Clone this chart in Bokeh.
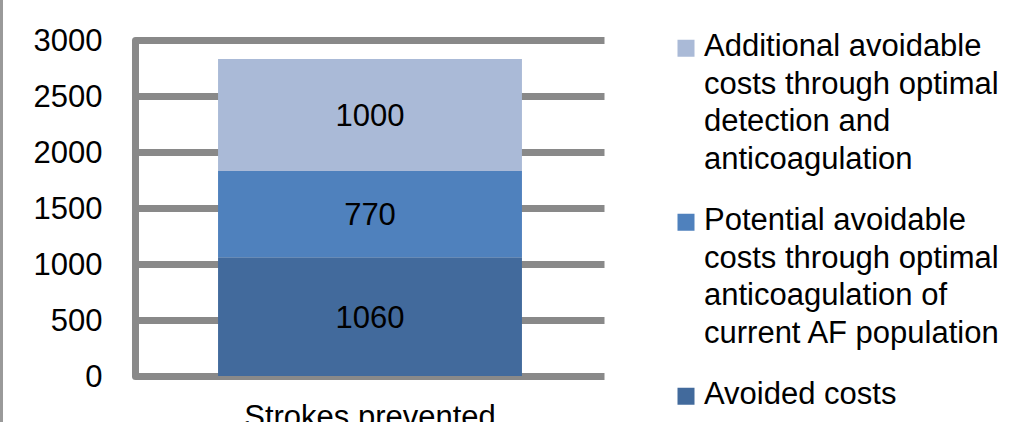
from bokeh.plotting import figure
from bokeh.models import ColumnDataSource, Range1d, FactorRange, FixedTicker
from bokeh.layouts import row
from bokeh.embed import file_html
from bokeh.resources import INLINE
from bokeh.core.properties import value

# ---------------- data ----------------
categories = ["Strokes prevented"]
avoided = [1060]
potential = [770]
additional = [1000]
stack_keys = ["avoided", "potential", "additional"]
series_names = [
    "Avoided costs",
    "Potential avoidable\ncosts through optimal\nanticoagulation of\ncurrent AF population",
    "Additional avoidable\ncosts through optimal\ndetection and\nanticoagulation",
]
series_colors = ["#426A9C", "#4F81BD", "#AABAD7"]
y_ticks = [0, 500, 1000, 1500, 2000, 2500, 3000]

# ---------------- style ----------------
FONT = "Liberation Sans"
FS = "31px"
GRID = "#898989"
EDGE = 3                                # left page border line width
W, LW, H = 608 - EDGE, 399, 422
TOP_PX, ZERO_PX = 39.5, 375.5           # canvas px of top tick and of zero
y_max = y_ticks[-1]
scale = (ZERO_PX - TOP_PX) / y_max      # px per unit
y_end = y_max + TOP_PX / scale
y_start = -(H - ZERO_PX) / scale

src = ColumnDataSource(dict(cat=categories, avoided=avoided,
                            potential=potential, additional=additional))

p = figure(x_range=FactorRange(factors=categories, range_padding=0),
           y_range=Range1d(y_start, y_end),
           width=W, height=H, min_border_left=135 - EDGE, min_border_right=4,
           min_border_top=0, min_border_bottom=0,
           x_axis_location=None, output_backend="svg",
           toolbar_location=None, tools="")
p.outline_line_color = None
p.styles = {"border-left": f"{EDGE}px solid #9a9a9a"}

p.vbar_stack(stack_keys, x="cat", width=0.648, source=src,
             color=series_colors, line_color=None)

# segment value labels
lab_x, lab_y, lab_t = [], [], []
for i, c in enumerate(categories):
    base = 0
    for k in stack_keys:
        v = src.data[k][i]
        lab_x.append(c)
        lab_y.append(base + v / 2)
        lab_t.append(str(v))
        base += v
p.text(x=lab_x, y=lab_y, text=lab_t, text_align="center",
       text_baseline="middle", text_font=value(FONT),
       text_font_size=FS, text_color="black")

# category label under the bar
p.text(x=categories, y=[0] * len(categories), text=categories,
       text_align="center", text_baseline="alphabetic", y_offset=40,
       text_font=value(FONT), text_font_size=FS, text_color="black")

# axes / grid
p.xgrid.visible = False
p.ygrid.ticker = FixedTicker(ticks=y_ticks)
p.ygrid.grid_line_color = GRID
p.ygrid.grid_line_width = 7
p.ygrid.grid_line_cap = "round"

ax = p.yaxis[0]
ax.ticker = FixedTicker(ticks=y_ticks)
ax.bounds = (0, y_max)
ax.axis_line_color = GRID
ax.axis_line_width = 7
ax.axis_line_cap = "round"
ax.major_tick_line_color = None
ax.minor_tick_line_color = None
ax.major_label_standoff = 27
ax.major_label_text_font = FONT
ax.major_label_text_font_size = FS
ax.major_label_text_color = "black"

# ---------------- legend figure (data units = canvas px) ----------------
lg = figure(width=LW, height=H, x_range=Range1d(0, LW),
            y_range=Range1d(H, 0),
            min_border_left=0, min_border_right=0,
            min_border_top=0, min_border_bottom=0,
            x_axis_location=None, y_axis_location=None,
            output_backend="svg", toolbar_location=None, tools="")
lg.outline_line_color = None
lg.grid.visible = False

sq_x, sq_y, sq_c = [], [], []
tx, ty, tt = [], [], []
order = list(range(len(series_names)))[::-1]
for k, idx in enumerate(order):
    sy = 47.7 + k * 174
    sq_x.append(80.5)
    sq_y.append(sy)
    sq_c.append(series_colors[idx])
    for j, line in enumerate(series_names[idx].split("\n")):
        tx.append(98.5)
        ty.append(sy - 2.5 + j * 37.5)
        tt.append(line)

lg.scatter(x=sq_x, y=sq_y, marker="square", size=17, color=sq_c, line_color=None)
lg.text(x=tx, y=ty, text=tt, text_align="left", text_baseline="alphabetic",
        text_font=value(FONT), text_font_size=FS, text_color="black")

layout = row(p, lg)
open("out.html", "w").write(file_html(layout, INLINE))
